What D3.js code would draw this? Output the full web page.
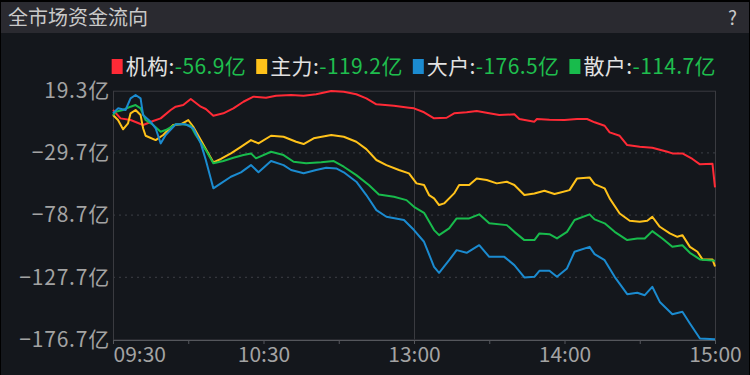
<!DOCTYPE html>
<html>
<head>
  <meta charset="utf-8">
  <style>
    html, body {
      margin: 0;
      overflow: hidden;
      background: #000;
    }
    svg {
      display: block;
    }
    text {
      font-family: "Noto Sans CJK SC", "Noto Sans", sans-serif;
    }
  </style>
  <script src="https://cdn.jsdelivr.net/npm/d3@7"></script>
</head>
<body>
  <svg id="svg" width="750" height="375"></svg>
  <script>
    // [minute since 09:30 (trading minutes), value in 亿]
    var jigou = [[0,4.1],[3,-2.5],[7,-3.8],[12,-7.7],[16,-4.6],[19,-2.5],[23,4.1],[25,6.7],[28,8.0],[31,12.8],
      [35,6.7],[37,4.9],[40,-0.4],[44,1.5],[48,5.4],[52,10.6],[56,14.6],[61,13.8],[65,15.4],[71,15.9],[76,15.4],
      [81,16.5],[87,19.1],[92,18.5],[97,16.5],[101,13.3],[105,8.6],[112,7.5],[118,5.9],[120,5.4],[124,2.3],
      [128,-2.5],[133,-2.0],[136,1.5],[141,2.3],[145,3.3],[150,1.5],[154,0.1],[160,0.7],[162,-3.0],[168,-5.1],
      [169,-3.0],[174,-3.6],[180,-3.8],[185,-3.0],[189,-3.0],[192,-5.6],[196,-8.3],[198,-13.5],[202,-16.2],
      [205,-23.5],[210,-24.9],[215,-25.6],[221,-28.8],[223,-30.1],[227,-30.1],[231,-34.5],[234,-38.7],[239,-38.3],[240,-56.9]];
    var zhuli = [[0,0.1],[2,-3.8],[4,-11.1],[6,-6.4],[7,1.5],[9,4.1],[11,0.1],[12,-10.3],[13,-16.2],[17,-19.6],
      [20,-15.6],[24,-7.7],[27,-7.2],[30,-3.8],[32,-9.1],[35,-19.6],[37,-26.7],[40,-37.1],[43,-34.5],[47,-30.1],
      [51,-24.9],[55,-19.6],[58,-22.2],[63,-16.2],[68,-17.0],[73,-20.9],[76,-22.7],[80,-18.2],[87,-15.6],[92,-17.0],
      [97,-20.9],[101,-26.7],[105,-35.3],[109,-39.3],[114,-43.2],[118,-45.8],[121,-53.7],[124,-55.0],[126,-62.9],
      [128,-65.5],[130,-70.8],[132,-69.5],[136,-61.6],[138,-55.0],[142,-55.0],[145,-49.8],[149,-51.1],[153,-53.7],
      [157,-52.4],[160,-55.0],[164,-62.9],[168,-61.7],[172,-59.5],[176,-62.1],[178,-61.1],[182,-59.0],[185,-49.8],
      [190,-49.0],[192,-54.3],[196,-57.6],[198,-65.5],[202,-77.4],[206,-83.2],[210,-84.0],[213,-83.2],[215,-80.0],
      [218,-87.9],[222,-93.1],[225,-95.8],[227,-94.5],[230,-103.7],[233,-107.6],[235,-113.6],[239,-113.6],[240,-119.2]];
    var dahu = [[0,1.5],[2,5.4],[5,4.1],[7,13.3],[9,15.9],[11,13.3],[12,0.1],[15,-5.1],[17,-10.3],[19,-22.2],
      [21,-15.6],[25,-7.2],[29,-7.2],[32,-10.3],[35,-22.2],[37,-35.3],[40,-57.6],[43,-53.7],[47,-48.5],[51,-45.0],
      [55,-39.3],[58,-45.0],[63,-36.1],[68,-39.3],[71,-43.2],[76,-45.8],[81,-43.2],[85,-41.4],[89,-41.9],[92,-45.0],
      [97,-52.4],[101,-62.9],[105,-74.8],[109,-80.0],[116,-82.6],[120,-90.5],[124,-99.7],[128,-119.5],[130,-124.2],
      [134,-114.2],[137,-106.3],[141,-108.4],[146,-102.4],[150,-111.6],[156,-111.6],[160,-118.1],[164,-127.8],
      [168,-127.3],[170,-122.6],[174,-122.6],[177,-127.3],[181,-120.7],[184,-107.6],[190,-103.7],[192,-109.4],
      [196,-114.2],[200,-127.3],[205,-141.0],[209,-139.9],[212,-141.8],[215,-135.2],[218,-147.1],[223,-156.8],
      [227,-154.9],[230,-164.1],[234,-175.9],[240,-176.5]];
    var sanhu = [[0,0.1],[1,2.7],[4,4.1],[7,6.7],[9,8.0],[11,5.4],[13,-3.8],[16,-7.7],[19,-13.0],[21,-11.7],
      [25,-7.2],[28,-7.2],[31,-8.3],[33,-15.6],[37,-27.5],[40,-37.9],[44,-36.1],[48,-33.5],[52,-31.4],[55,-30.1],
      [57,-34.0],[63,-28.8],[68,-31.4],[72,-36.7],[77,-37.9],[83,-37.1],[88,-36.1],[92,-40.6],[97,-47.2],[102,-55.0],
      [106,-62.4],[112,-64.3],[117,-66.9],[120,-72.2],[124,-76.9],[128,-90.5],[130,-94.5],[134,-89.2],[137,-81.3],
      [142,-81.3],[146,-78.1],[150,-85.2],[157,-86.6],[160,-91.9],[164,-98.4],[168,-98.4],[170,-93.1],[174,-93.7],
      [177,-97.1],[181,-91.9],[184,-82.6],[190,-78.1],[192,-82.1],[196,-85.2],[200,-91.9],[205,-98.4],[209,-97.1],
      [212,-97.1],[215,-91.3],[219,-97.1],[223,-103.7],[227,-102.4],[230,-108.4],[234,-113.6],[240,-114.7]];

    var seriesNames = ["机构", "主力", "大户", "散户"];
    var seriesColors = ["#ff2a36", "#ffc21a", "#1b8bd0", "#18bb4c"];
    var seriesLast = ["-56.9亿", "-119.2亿", "-176.5亿", "-114.7亿"];
    var yTicks = [19.3, -29.7, -78.7, -127.7, -176.7];
    var xTicks = [0, 30, 60, 90, 120, 150, 180, 210, 240];
    var xLabels = {0: "09:30", 60: "10:30", 120: "13:00", 180: "14:00", 240: "15:00"};

    var W = 750, H = 375;
    var margin = {top: 90.7, right: 35, bottom: 35.5, left: 113};
    var width = W - margin.left - margin.right;
    var height = H - margin.top - margin.bottom;

    var svg = d3.select("#svg");

    // panel + title bar
    svg.append("rect").attr("x", 1).attr("y", 2).attr("width", W - 2).attr("height", H - 2).attr("fill", "#14171c");
    svg.append("rect").attr("x", 1).attr("y", 2).attr("width", W - 2).attr("height", 31).attr("fill", "#2a2a30");
    svg.append("text").attr("x", 8).attr("y", 18).attr("dy", "0.35em")
      .attr("fill", "#c9c9c9").style("font-size", "20px").text("全市场资金流向");
    svg.append("text").attr("x", 737).attr("y", 18).attr("dy", "0.35em").attr("text-anchor", "end")
      .attr("fill", "#c9c9c9").style("font-size", "19px").text("?");

    var x = d3.scaleLinear().domain([0, 240]).range([0, width]);
    var y = d3.scaleLinear().domain([-176.7, 19.3]).range([height, 0]);

    var g = svg.append("g").attr("transform", "translate(" + margin.left + "," + margin.top + ")");

    // dotted grid
    g.selectAll(".grid").data(yTicks.slice(1, 4)).enter().append("line")
      .attr("x1", 0).attr("x2", width)
      .attr("y1", function(d){return y(d)}).attr("y2", function(d){return y(d)})
      .attr("stroke", "#3c3f45").attr("stroke-width", 1).attr("stroke-dasharray", "2,4");

    // frame
    g.append("rect").attr("x", 0.5).attr("y", 0.5).attr("width", width).attr("height", height)
      .attr("fill", "none").attr("stroke", "#3a3b40").attr("stroke-width", 1);
    g.append("line").attr("x1", x(120) + 0.5).attr("x2", x(120) + 0.5).attr("y1", 0).attr("y2", height)
      .attr("stroke", "#3a3b40").attr("stroke-width", 1);

    // x axis
    var xAxis = d3.axisBottom(x).tickValues(xTicks).tickSize(4).tickFormat(function(d){return xLabels[d] || ""});
    var xObj = g.append("g").attr("transform", "translate(0," + (height + 0.5) + ")").call(xAxis);
    xObj.select(".domain").attr("stroke", "#55575c");
    xObj.selectAll(".tick line").attr("stroke", "#55575c");
    xObj.selectAll(".tick text").attr("fill", "#a3a3a3").style("font-size", "21px")
      .attr("font-family", null).attr("y", 7).attr("dy", "0.71em")
      .attr("text-anchor", function(d){return d === 0 ? "start" : "middle"});

    // y axis labels
    var yAxis = d3.axisLeft(y).tickValues(yTicks).tickSize(0).tickPadding(3)
      .tickFormat(function(d){return d3.format(".1f")(d) + "亿"});
    var yObj = g.append("g").call(yAxis);
    yObj.select(".domain").remove();
    yObj.selectAll(".tick text").attr("fill", "#a3a3a3").style("font-size", "21px")
      .style("letter-spacing", "0.8px").attr("font-family", null);

    // lines
    var line = d3.line().x(function(d){return x(d[0])}).y(function(d){return y(d[1])});
    var allSeries = [jigou, zhuli, dahu, sanhu];
    var drawOrder = [0, 1, 3, 2];
    drawOrder.forEach(function(i){
      g.append("path").datum(allSeries[i])
        .attr("fill", "none").attr("stroke", seriesColors[i]).attr("stroke-width", 2)
        .attr("stroke-linejoin", "round").attr("d", line);
    });

    // legend, right aligned to plot edge
    var legend = svg.append("g");
    var lx = 0;
    seriesNames.forEach(function(name, i){
      var item = legend.append("g").attr("transform", "translate(" + lx + ",0)");
      item.append("rect").attr("x", 0).attr("y", 59).attr("width", 11).attr("height", 15).attr("fill", seriesColors[i]);
      var t = item.append("text").attr("x", 14).attr("y", 67).attr("dy", "0.35em")
        .style("font-size", "21px").style("letter-spacing", "0.4px");
      t.append("tspan").attr("fill", "#e2e2e2").text(name + ":");
      t.append("tspan").attr("fill", "#1fbe4e").text(seriesLast[i]);
      lx += 14 + t.node().getComputedTextLength() + 10;
    });
    legend.attr("transform", "translate(" + (716 - (lx - 10)) + ",0)");
  </script>
</body>
</html>
